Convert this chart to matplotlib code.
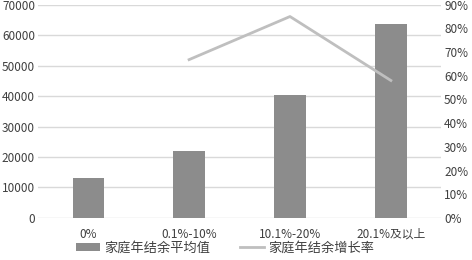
import matplotlib
matplotlib.use("Agg")
import matplotlib.pyplot as plt
import numpy as np
from matplotlib.ticker import PercentFormatter

plt.rcParams['font.family'] = ['Noto Sans CJK SC', 'DejaVu Sans']

categories = ["0%", "0.1%-10%", "10.1%-20%", "20.1%及以上"]
avg_surplus = [13000, 21800, 40300, 63600]
growth_rate = [np.nan, 66.8, 85.0, 58.0]

bar_color = "#8c8c8c"
line_color = "#bfbfbf"
grid_color = "#d9d9d9"

fig = plt.figure(figsize=(4.72, 2.6), dpi=100)
ax = fig.add_axes([0.08, 0.162, 0.855, 0.82])
ax2 = ax.twinx()

x = np.arange(len(categories))
ax.bar(x, avg_surplus, width=0.31, color=bar_color, label="家庭年结余平均值", zorder=3)
ax2.plot(x, growth_rate, color=line_color, lw=2, label="家庭年结余增长率")

ax.set_ylim(0, 70000)
ax.set_yticks(range(0, 70001, 10000))
ax2.set_ylim(0, 90)
ax2.set_yticks(range(0, 91, 10))
ax2.yaxis.set_major_formatter(PercentFormatter(decimals=0))
ax.set_xlim(-0.5, 3.5)
ax.set_xticks(x)
ax.set_xticklabels(categories)

ax.grid(axis='y', color=grid_color, lw=1, zorder=0)
ax.set_axisbelow(True)
for a in (ax, ax2):
    for s in a.spines.values():
        s.set_visible(False)
    a.tick_params(length=0, labelsize=8.5, colors="#404040")
ax.tick_params(axis='x', pad=7)
ax.tick_params(axis='y', pad=2)
ax2.tick_params(axis='y', pad=2)

h1, l1 = ax.get_legend_handles_labels()
h2, l2 = ax2.get_legend_handles_labels()
fig.legend(h1 + h2, l1 + l2, loc='lower center', bbox_to_anchor=(0.477, -0.025),
           ncol=2, frameon=False, fontsize=9.5, handlelength=1.8, handleheight=0.5,
           handletextpad=0.3, columnspacing=2.3, labelcolor="#404040")

fig.savefig("out.png", dpi=100)
